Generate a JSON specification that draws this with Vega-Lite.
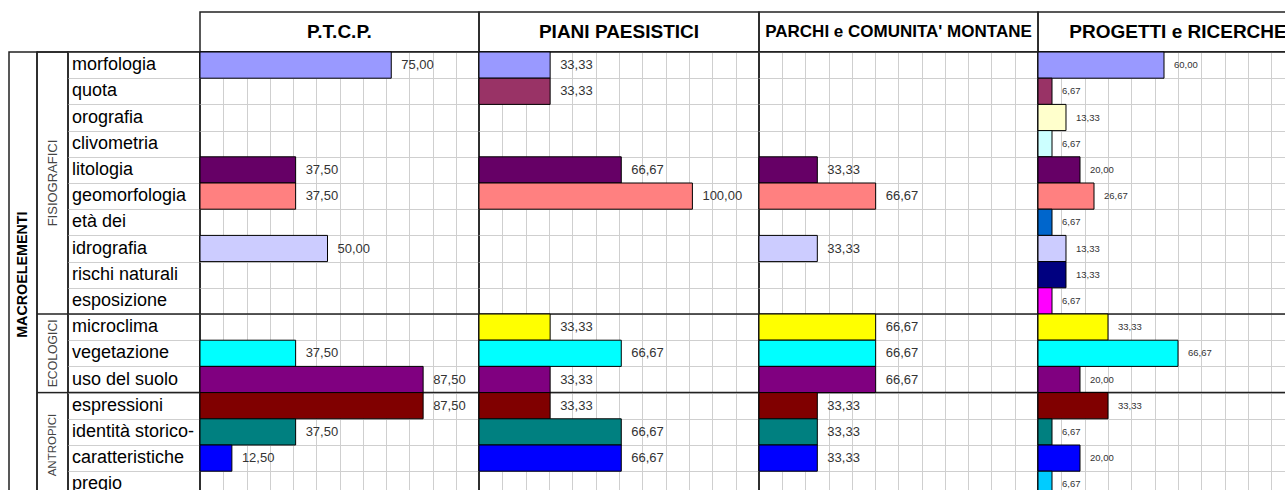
{
  "$schema": "https://vega.github.io/schema/vega-lite/v6.json",
  "padding": {"left": 8, "top": 11, "right": 0, "bottom": 0},
  "background": "white",
  "columns": 7,
  "spacing": 0,
  "bounds": "flush",
  "config": {
    "view": {"stroke": "#222222", "strokeWidth": 1.5},
    "concat": {"spacing": 0},
    "font": "Liberation Sans",
    "locale": {"number": {"decimal": ",", "thousands": ".", "grouping": [3], "currency": ["", " €"]}},
    "axis": {"domain": false, "ticks": false, "labels": false, "gridColor": "#cfcfcf", "gridWidth": 1, "minExtent": 0, "maxExtent": 0, "titlePadding": 0, "offset": 0}
  },
  "datasets": {
    "panels": [
      {"panel": "P.T.C.P."},
      {"panel": "PIANI PAESISTICI"},
      {"panel": "PARCHI e COMUNITA' MONTANE"},
      {"panel": "PROGETTI e RICERCHE"}
    ],
    "items": [
      {"macro": "MACROELEMENTI", "group": "FISIOGRAFICI", "item": "morfologia"},
      {"macro": "MACROELEMENTI", "group": "FISIOGRAFICI", "item": "quota"},
      {"macro": "MACROELEMENTI", "group": "FISIOGRAFICI", "item": "orografia"},
      {"macro": "MACROELEMENTI", "group": "FISIOGRAFICI", "item": "clivometria"},
      {"macro": "MACROELEMENTI", "group": "FISIOGRAFICI", "item": "litologia"},
      {"macro": "MACROELEMENTI", "group": "FISIOGRAFICI", "item": "geomorfologia"},
      {"macro": "MACROELEMENTI", "group": "FISIOGRAFICI", "item": "età dei"},
      {"macro": "MACROELEMENTI", "group": "FISIOGRAFICI", "item": "idrografia"},
      {"macro": "MACROELEMENTI", "group": "FISIOGRAFICI", "item": "rischi naturali"},
      {"macro": "MACROELEMENTI", "group": "FISIOGRAFICI", "item": "esposizione"},
      {"macro": "MACROELEMENTI", "group": "ECOLOGICI", "item": "microclima"},
      {"macro": "MACROELEMENTI", "group": "ECOLOGICI", "item": "vegetazione"},
      {"macro": "MACROELEMENTI", "group": "ECOLOGICI", "item": "uso del suolo"},
      {"macro": "MACROELEMENTI", "group": "ANTROPICI", "item": "espressioni"},
      {"macro": "MACROELEMENTI", "group": "ANTROPICI", "item": "identità storico-"},
      {"macro": "MACROELEMENTI", "group": "ANTROPICI", "item": "caratteristiche"},
      {"macro": "MACROELEMENTI", "group": "ANTROPICI", "item": "pregio"}
    ],
    "values": [
      {"panel": "P.T.C.P.", "item": "morfologia", "value": 75},
      {"panel": "P.T.C.P.", "item": "litologia", "value": 37.5},
      {"panel": "P.T.C.P.", "item": "geomorfologia", "value": 37.5},
      {"panel": "P.T.C.P.", "item": "idrografia", "value": 50},
      {"panel": "P.T.C.P.", "item": "vegetazione", "value": 37.5},
      {"panel": "P.T.C.P.", "item": "uso del suolo", "value": 87.5},
      {"panel": "P.T.C.P.", "item": "espressioni", "value": 87.5},
      {"panel": "P.T.C.P.", "item": "identità storico-", "value": 37.5},
      {"panel": "P.T.C.P.", "item": "caratteristiche", "value": 12.5},
      {"panel": "PIANI PAESISTICI", "item": "morfologia", "value": 33.33},
      {"panel": "PIANI PAESISTICI", "item": "quota", "value": 33.33},
      {"panel": "PIANI PAESISTICI", "item": "litologia", "value": 66.67},
      {"panel": "PIANI PAESISTICI", "item": "geomorfologia", "value": 100},
      {"panel": "PIANI PAESISTICI", "item": "microclima", "value": 33.33},
      {"panel": "PIANI PAESISTICI", "item": "vegetazione", "value": 66.67},
      {"panel": "PIANI PAESISTICI", "item": "uso del suolo", "value": 33.33},
      {"panel": "PIANI PAESISTICI", "item": "espressioni", "value": 33.33},
      {"panel": "PIANI PAESISTICI", "item": "identità storico-", "value": 66.67},
      {"panel": "PIANI PAESISTICI", "item": "caratteristiche", "value": 66.67},
      {"panel": "PARCHI e COMUNITA' MONTANE", "item": "litologia", "value": 33.33},
      {"panel": "PARCHI e COMUNITA' MONTANE", "item": "geomorfologia", "value": 66.67},
      {"panel": "PARCHI e COMUNITA' MONTANE", "item": "idrografia", "value": 33.33},
      {"panel": "PARCHI e COMUNITA' MONTANE", "item": "microclima", "value": 66.67},
      {"panel": "PARCHI e COMUNITA' MONTANE", "item": "vegetazione", "value": 66.67},
      {"panel": "PARCHI e COMUNITA' MONTANE", "item": "uso del suolo", "value": 66.67},
      {"panel": "PARCHI e COMUNITA' MONTANE", "item": "espressioni", "value": 33.33},
      {"panel": "PARCHI e COMUNITA' MONTANE", "item": "identità storico-", "value": 33.33},
      {"panel": "PARCHI e COMUNITA' MONTANE", "item": "caratteristiche", "value": 33.33},
      {"panel": "PROGETTI e RICERCHE", "item": "morfologia", "value": 60},
      {"panel": "PROGETTI e RICERCHE", "item": "quota", "value": 6.67},
      {"panel": "PROGETTI e RICERCHE", "item": "orografia", "value": 13.33},
      {"panel": "PROGETTI e RICERCHE", "item": "clivometria", "value": 6.67},
      {"panel": "PROGETTI e RICERCHE", "item": "litologia", "value": 20},
      {"panel": "PROGETTI e RICERCHE", "item": "geomorfologia", "value": 26.67},
      {"panel": "PROGETTI e RICERCHE", "item": "età dei", "value": 6.67},
      {"panel": "PROGETTI e RICERCHE", "item": "idrografia", "value": 13.33},
      {"panel": "PROGETTI e RICERCHE", "item": "rischi naturali", "value": 13.33},
      {"panel": "PROGETTI e RICERCHE", "item": "esposizione", "value": 6.67},
      {"panel": "PROGETTI e RICERCHE", "item": "microclima", "value": 33.33},
      {"panel": "PROGETTI e RICERCHE", "item": "vegetazione", "value": 66.67},
      {"panel": "PROGETTI e RICERCHE", "item": "uso del suolo", "value": 20},
      {"panel": "PROGETTI e RICERCHE", "item": "espressioni", "value": 33.33},
      {"panel": "PROGETTI e RICERCHE", "item": "identità storico-", "value": 6.67},
      {"panel": "PROGETTI e RICERCHE", "item": "caratteristiche", "value": 20},
      {"panel": "PROGETTI e RICERCHE", "item": "pregio", "value": 6.67}
    ]
  },
  "concat": [
    {"width": 28, "height": 40, "view": {"stroke": null}, "data": {"name": "panels"}, "transform": [{"filter": {"field": "panel", "equal": "P.T.C.P."}}], "mark": {"type": "text"}, "encoding": {"x": {"field": "panel", "type": "nominal", "axis": null, "scale": {"type": "band", "paddingInner": 0, "paddingOuter": 0}}, "text": {"value": ""}}},
    {"width": 31, "height": 40, "view": {"stroke": null}, "data": {"name": "panels"}, "transform": [{"filter": {"field": "panel", "equal": "P.T.C.P."}}], "mark": {"type": "text"}, "encoding": {"x": {"field": "panel", "type": "nominal", "axis": null, "scale": {"type": "band", "paddingInner": 0, "paddingOuter": 0}}, "text": {"value": ""}}},
    {"width": 132, "height": 40, "view": {"stroke": null}, "data": {"name": "panels"}, "transform": [{"filter": {"field": "panel", "equal": "P.T.C.P."}}], "mark": {"type": "text"}, "encoding": {"x": {"field": "panel", "type": "nominal", "axis": null, "scale": {"type": "band", "paddingInner": 0, "paddingOuter": 0}}, "text": {"value": ""}}},
    {"width": 279, "height": 40, "data": {"name": "panels"}, "transform": [{"filter": {"field": "panel", "equal": "P.T.C.P."}}], "mark": {"type": "text", "fontSize": 19, "fontWeight": "bold", "color": "black"}, "encoding": {"x": {"field": "panel", "type": "nominal", "axis": null, "scale": {"type": "band", "paddingInner": 0, "paddingOuter": 0}}, "text": {"field": "panel"}}},
    {"width": 280, "height": 40, "data": {"name": "panels"}, "transform": [{"filter": {"field": "panel", "equal": "PIANI PAESISTICI"}}], "mark": {"type": "text", "fontSize": 19, "fontWeight": "bold", "color": "black"}, "encoding": {"x": {"field": "panel", "type": "nominal", "axis": null, "scale": {"type": "band", "paddingInner": 0, "paddingOuter": 0}}, "text": {"field": "panel"}}},
    {"width": 279, "height": 40, "data": {"name": "panels"}, "transform": [{"filter": {"field": "panel", "equal": "PARCHI e COMUNITA' MONTANE"}}], "mark": {"type": "text", "fontSize": 17, "fontWeight": "bold", "color": "black"}, "encoding": {"x": {"field": "panel", "type": "nominal", "axis": null, "scale": {"type": "band", "paddingInner": 0, "paddingOuter": 0}}, "text": {"field": "panel"}}},
    {"width": 280, "height": 40, "data": {"name": "panels"}, "transform": [{"filter": {"field": "panel", "equal": "PROGETTI e RICERCHE"}}], "mark": {"type": "text", "fontSize": 19, "fontWeight": "bold", "color": "black"}, "encoding": {"x": {"field": "panel", "type": "nominal", "axis": null, "scale": {"type": "band", "paddingInner": 0, "paddingOuter": 0}}, "text": {"field": "panel"}}},
    {
      "width": 28, "height": 445.4,
      "data": {"name": "items"},
      "transform": [{"aggregate": [{"op": "count", "as": "n"}], "groupby": ["macro"]}],
      "mark": {"type": "text", "angle": 270, "fontSize": 14.3, "fontWeight": "bold", "color": "black"},
      "encoding": {"y": {"field": "macro", "type": "nominal", "axis": null, "scale": {"type": "band", "paddingInner": 0, "paddingOuter": 0}}, "text": {"field": "macro"}}
    },
    {
      "width": 31, "height": 445.4,
      "data": {"name": "items"},
      "transform": [
        {"window": [{"op": "row_number", "as": "rn"}], "groupby": ["group"]},
        {"joinaggregate": [{"op": "count", "as": "n"}], "groupby": ["group"]}
      ],
      "layer": [
        {
          "transform": [{"filter": "datum.rn === 1"}],
          "mark": {"type": "rule", "color": "#222222", "strokeWidth": 1.5},
          "encoding": {"y": {"field": "item", "type": "nominal", "bandPosition": 0, "axis": null, "scale": {"domain": ["morfologia","quota","orografia","clivometria","litologia","geomorfologia","età dei","idrografia","rischi naturali","esposizione","microclima","vegetazione","uso del suolo","espressioni","identità storico-","caratteristiche","pregio"], "paddingInner": 0, "paddingOuter": 0}}}
        },
        {
          "transform": [{"filter": "datum.n % 2 === 0 && datum.rn === floor(datum.n / 2) + 1"}],
          "mark": {"type": "text", "angle": 270, "color": "#444444", "baseline": "middle", "align": "center"},
          "encoding": {
            "y": {"field": "item", "type": "nominal", "bandPosition": 0, "axis": null, "scale": {"domain": ["morfologia","quota","orografia","clivometria","litologia","geomorfologia","età dei","idrografia","rischi naturali","esposizione","microclima","vegetazione","uso del suolo","espressioni","identità storico-","caratteristiche","pregio"], "paddingInner": 0, "paddingOuter": 0}},
            "text": {"field": "group"},
            "size": {"field": "group", "type": "nominal", "legend": null, "scale": {"domain": ["FISIOGRAFICI", "ECOLOGICI", "ANTROPICI"], "range": [13, 11.5, 11.5]}}
          }
        },
        {
          "transform": [{"filter": "datum.n % 2 === 1 && datum.rn === floor(datum.n / 2) + 1"}],
          "mark": {"type": "text", "angle": 270, "color": "#444444", "baseline": "middle", "align": "center"},
          "encoding": {
            "y": {"field": "item", "type": "nominal", "bandPosition": 0.5, "axis": null, "scale": {"domain": ["morfologia","quota","orografia","clivometria","litologia","geomorfologia","età dei","idrografia","rischi naturali","esposizione","microclima","vegetazione","uso del suolo","espressioni","identità storico-","caratteristiche","pregio"], "paddingInner": 0, "paddingOuter": 0}},
            "text": {"field": "group"},
            "size": {"field": "group", "type": "nominal", "legend": null, "scale": {"domain": ["FISIOGRAFICI", "ECOLOGICI", "ANTROPICI"], "range": [13, 11.5, 11.5]}}
          }
        }
      ]
    },
    {
      "width": 132, "height": 445.4,
      "data": {"name": "items"},
      "transform": [{"window": [{"op": "row_number", "as": "rn"}], "groupby": ["group"]}],
      "layer": [
        {
          "mark": {"type": "rule", "color": "#222222", "strokeWidth": 1.5},
          "transform": [{"filter": "datum.rn === 1"}],
          "encoding": {
            "y": {"field": "item", "type": "nominal", "bandPosition": 0, "scale": {"domain": ["morfologia","quota","orografia","clivometria","litologia","geomorfologia","età dei","idrografia","rischi naturali","esposizione","microclima","vegetazione","uso del suolo","espressioni","identità storico-","caratteristiche","pregio"], "paddingInner": 0, "paddingOuter": 0},
              "axis": {"title": null, "grid": true, "tickBand": "extent"}}
          }
        },
        {
          "mark": {"type": "text", "align": "left", "baseline": "middle", "dx": 4, "fontSize": 18, "color": "black"},
          "encoding": {
            "x": {"datum": 0, "type": "quantitative", "scale": {"domain": [0, 1]}, "axis": null},
            "y": {"field": "item", "type": "nominal", "scale": {"domain": ["morfologia","quota","orografia","clivometria","litologia","geomorfologia","età dei","idrografia","rischi naturali","esposizione","microclima","vegetazione","uso del suolo","espressioni","identità storico-","caratteristiche","pregio"], "paddingInner": 0, "paddingOuter": 0},
              "axis": {"title": null, "grid": true, "tickBand": "extent"}},
            "text": {"field": "item"}
          }
        }
      ]
    },
    {
      "width": 279, "height": 445.4,
      "layer": [
        {"data": {"name": "items"}, "transform": [{"window": [{"op": "row_number", "as": "rn"}], "groupby": ["group"]}, {"filter": "datum.rn === 1"}],
         "mark": {"type": "rule", "color": "#222222", "strokeWidth": 1.5},
         "encoding": {"y": {"field": "item", "type": "nominal", "bandPosition": 0, "scale": {"domain": ["morfologia","quota","orografia","clivometria","litologia","geomorfologia","età dei","idrografia","rischi naturali","esposizione","microclima","vegetazione","uso del suolo","espressioni","identità storico-","caratteristiche","pregio"], "paddingInner": 0, "paddingOuter": 0}, "axis": {"title": null, "grid": true, "tickBand": "extent"}}}},
        {"data": {"name": "values"}, "transform": [{"filter": {"field": "panel", "equal": "P.T.C.P."}}],
         "mark": {"type": "bar", "stroke": "black", "strokeWidth": 1},
         "encoding": {
           "x": {"field": "value", "type": "quantitative", "scale": {"domain": [0, 109.41], "nice": false, "zero": true}, "axis": {"title": null, "grid": true, "values": [9.118, 18.235, 27.353, 36.471, 45.588, 54.706, 63.824, 72.941, 82.059, 91.176, 100.294]}},
           "y": {"field": "item", "type": "nominal", "scale": {"domain": ["morfologia","quota","orografia","clivometria","litologia","geomorfologia","età dei","idrografia","rischi naturali","esposizione","microclima","vegetazione","uso del suolo","espressioni","identità storico-","caratteristiche","pregio"], "paddingInner": 0, "paddingOuter": 0}, "axis": {"title": null, "grid": true, "tickBand": "extent"}},
           "color": {"field": "item", "type": "nominal", "legend": null, "scale": {"domain": ["morfologia","quota","orografia","clivometria","litologia","geomorfologia","età dei","idrografia","rischi naturali","esposizione","microclima","vegetazione","uso del suolo","espressioni","identità storico-","caratteristiche","pregio"], "range": ["#9999FF","#993366","#FFFFCC","#CCFFFF","#660066","#FF8080","#0066CC","#CCCCFF","#000080","#FF00FF","#FFFF00","#00FFFF","#800080","#800000","#008080","#0000FF","#00CCFF"]}}
         }},
        {"data": {"name": "values"}, "transform": [{"filter": {"field": "panel", "equal": "P.T.C.P."}}],
         "mark": {"type": "text", "align": "left", "baseline": "middle", "dx": 10, "fontSize": 13, "color": "#333333"},
         "encoding": {
           "x": {"field": "value", "type": "quantitative", "scale": {"domain": [0, 109.41], "nice": false, "zero": true}, "axis": {"title": null, "grid": true, "values": [9.118, 18.235, 27.353, 36.471, 45.588, 54.706, 63.824, 72.941, 82.059, 91.176, 100.294]}},
           "y": {"field": "item", "type": "nominal", "scale": {"domain": ["morfologia","quota","orografia","clivometria","litologia","geomorfologia","età dei","idrografia","rischi naturali","esposizione","microclima","vegetazione","uso del suolo","espressioni","identità storico-","caratteristiche","pregio"], "paddingInner": 0, "paddingOuter": 0}, "axis": {"title": null, "grid": true, "tickBand": "extent"}},
           "text": {"field": "value", "type": "quantitative", "format": ".2f"}
         }}
      ]
    },
    {
      "width": 280, "height": 445.4,
      "layer": [
        {"data": {"name": "items"}, "transform": [{"window": [{"op": "row_number", "as": "rn"}], "groupby": ["group"]}, {"filter": "datum.rn === 1"}],
         "mark": {"type": "rule", "color": "#222222", "strokeWidth": 1.5},
         "encoding": {"y": {"field": "item", "type": "nominal", "bandPosition": 0, "scale": {"domain": ["morfologia","quota","orografia","clivometria","litologia","geomorfologia","età dei","idrografia","rischi naturali","esposizione","microclima","vegetazione","uso del suolo","espressioni","identità storico-","caratteristiche","pregio"], "paddingInner": 0, "paddingOuter": 0}, "axis": {"title": null, "grid": true, "tickBand": "extent"}}}},
        {"data": {"name": "values"}, "transform": [{"filter": {"field": "panel", "equal": "PIANI PAESISTICI"}}],
         "mark": {"type": "bar", "stroke": "black", "strokeWidth": 1},
         "encoding": {
           "x": {"field": "value", "type": "quantitative", "scale": {"domain": [0, 131.21], "nice": false, "zero": true}, "axis": {"title": null, "grid": true, "values": [10.934, 21.868, 32.802, 43.736, 54.67, 65.604, 76.538, 87.472, 98.406, 109.34, 120.274]}},
           "y": {"field": "item", "type": "nominal", "scale": {"domain": ["morfologia","quota","orografia","clivometria","litologia","geomorfologia","età dei","idrografia","rischi naturali","esposizione","microclima","vegetazione","uso del suolo","espressioni","identità storico-","caratteristiche","pregio"], "paddingInner": 0, "paddingOuter": 0}, "axis": {"title": null, "grid": true, "tickBand": "extent"}},
           "color": {"field": "item", "type": "nominal", "legend": null, "scale": {"domain": ["morfologia","quota","orografia","clivometria","litologia","geomorfologia","età dei","idrografia","rischi naturali","esposizione","microclima","vegetazione","uso del suolo","espressioni","identità storico-","caratteristiche","pregio"], "range": ["#9999FF","#993366","#FFFFCC","#CCFFFF","#660066","#FF8080","#0066CC","#CCCCFF","#000080","#FF00FF","#FFFF00","#00FFFF","#800080","#800000","#008080","#0000FF","#00CCFF"]}}
         }},
        {"data": {"name": "values"}, "transform": [{"filter": {"field": "panel", "equal": "PIANI PAESISTICI"}}],
         "mark": {"type": "text", "align": "left", "baseline": "middle", "dx": 10, "fontSize": 13, "color": "#333333"},
         "encoding": {
           "x": {"field": "value", "type": "quantitative", "scale": {"domain": [0, 131.21], "nice": false, "zero": true}, "axis": {"title": null, "grid": true, "values": [10.934, 21.868, 32.802, 43.736, 54.67, 65.604, 76.538, 87.472, 98.406, 109.34, 120.274]}},
           "y": {"field": "item", "type": "nominal", "scale": {"domain": ["morfologia","quota","orografia","clivometria","litologia","geomorfologia","età dei","idrografia","rischi naturali","esposizione","microclima","vegetazione","uso del suolo","espressioni","identità storico-","caratteristiche","pregio"], "paddingInner": 0, "paddingOuter": 0}, "axis": {"title": null, "grid": true, "tickBand": "extent"}},
           "text": {"field": "value", "type": "quantitative", "format": ".2f"}
         }}
      ]
    },
    {
      "width": 279, "height": 445.4,
      "layer": [
        {"data": {"name": "items"}, "transform": [{"window": [{"op": "row_number", "as": "rn"}], "groupby": ["group"]}, {"filter": "datum.rn === 1"}],
         "mark": {"type": "rule", "color": "#222222", "strokeWidth": 1.5},
         "encoding": {"y": {"field": "item", "type": "nominal", "bandPosition": 0, "scale": {"domain": ["morfologia","quota","orografia","clivometria","litologia","geomorfologia","età dei","idrografia","rischi naturali","esposizione","microclima","vegetazione","uso del suolo","espressioni","identità storico-","caratteristiche","pregio"], "paddingInner": 0, "paddingOuter": 0}, "axis": {"title": null, "grid": true, "tickBand": "extent"}}}},
        {"data": {"name": "values"}, "transform": [{"filter": {"field": "panel", "equal": "PARCHI e COMUNITA' MONTANE"}}],
         "mark": {"type": "bar", "stroke": "black", "strokeWidth": 1},
         "encoding": {
           "x": {"field": "value", "type": "quantitative", "scale": {"domain": [0, 159.43], "nice": false, "zero": true}, "axis": {"title": null, "grid": true, "values": [13.286, 26.571, 39.857, 53.143, 66.429, 79.714, 93.0, 106.286, 119.571, 132.857, 146.143]}},
           "y": {"field": "item", "type": "nominal", "scale": {"domain": ["morfologia","quota","orografia","clivometria","litologia","geomorfologia","età dei","idrografia","rischi naturali","esposizione","microclima","vegetazione","uso del suolo","espressioni","identità storico-","caratteristiche","pregio"], "paddingInner": 0, "paddingOuter": 0}, "axis": {"title": null, "grid": true, "tickBand": "extent"}},
           "color": {"field": "item", "type": "nominal", "legend": null, "scale": {"domain": ["morfologia","quota","orografia","clivometria","litologia","geomorfologia","età dei","idrografia","rischi naturali","esposizione","microclima","vegetazione","uso del suolo","espressioni","identità storico-","caratteristiche","pregio"], "range": ["#9999FF","#993366","#FFFFCC","#CCFFFF","#660066","#FF8080","#0066CC","#CCCCFF","#000080","#FF00FF","#FFFF00","#00FFFF","#800080","#800000","#008080","#0000FF","#00CCFF"]}}
         }},
        {"data": {"name": "values"}, "transform": [{"filter": {"field": "panel", "equal": "PARCHI e COMUNITA' MONTANE"}}],
         "mark": {"type": "text", "align": "left", "baseline": "middle", "dx": 10, "fontSize": 13, "color": "#333333"},
         "encoding": {
           "x": {"field": "value", "type": "quantitative", "scale": {"domain": [0, 159.43], "nice": false, "zero": true}, "axis": {"title": null, "grid": true, "values": [13.286, 26.571, 39.857, 53.143, 66.429, 79.714, 93.0, 106.286, 119.571, 132.857, 146.143]}},
           "y": {"field": "item", "type": "nominal", "scale": {"domain": ["morfologia","quota","orografia","clivometria","litologia","geomorfologia","età dei","idrografia","rischi naturali","esposizione","microclima","vegetazione","uso del suolo","espressioni","identità storico-","caratteristiche","pregio"], "paddingInner": 0, "paddingOuter": 0}, "axis": {"title": null, "grid": true, "tickBand": "extent"}},
           "text": {"field": "value", "type": "quantitative", "format": ".2f"}
         }}
      ]
    },
    {
      "width": 280, "height": 445.4,
      "layer": [
        {"data": {"name": "items"}, "transform": [{"window": [{"op": "row_number", "as": "rn"}], "groupby": ["group"]}, {"filter": "datum.rn === 1"}],
         "mark": {"type": "rule", "color": "#222222", "strokeWidth": 1.5},
         "encoding": {"y": {"field": "item", "type": "nominal", "bandPosition": 0, "scale": {"domain": ["morfologia","quota","orografia","clivometria","litologia","geomorfologia","età dei","idrografia","rischi naturali","esposizione","microclima","vegetazione","uso del suolo","espressioni","identità storico-","caratteristiche","pregio"], "paddingInner": 0, "paddingOuter": 0}, "axis": {"title": null, "grid": true, "tickBand": "extent"}}}},
        {"data": {"name": "values"}, "transform": [{"filter": {"field": "panel", "equal": "PROGETTI e RICERCHE"}}],
         "mark": {"type": "bar", "stroke": "black", "strokeWidth": 1},
         "encoding": {
           "x": {"field": "value", "type": "quantitative", "scale": {"domain": [0, 133.33], "nice": false, "zero": true}, "axis": {"title": null, "grid": true, "values": [11.111, 22.222, 33.333, 44.444, 55.556, 66.667, 77.778, 88.889, 100, 111.111, 122.222]}},
           "y": {"field": "item", "type": "nominal", "scale": {"domain": ["morfologia","quota","orografia","clivometria","litologia","geomorfologia","età dei","idrografia","rischi naturali","esposizione","microclima","vegetazione","uso del suolo","espressioni","identità storico-","caratteristiche","pregio"], "paddingInner": 0, "paddingOuter": 0}, "axis": {"title": null, "grid": true, "tickBand": "extent"}},
           "color": {"field": "item", "type": "nominal", "legend": null, "scale": {"domain": ["morfologia","quota","orografia","clivometria","litologia","geomorfologia","età dei","idrografia","rischi naturali","esposizione","microclima","vegetazione","uso del suolo","espressioni","identità storico-","caratteristiche","pregio"], "range": ["#9999FF","#993366","#FFFFCC","#CCFFFF","#660066","#FF8080","#0066CC","#CCCCFF","#000080","#FF00FF","#FFFF00","#00FFFF","#800080","#800000","#008080","#0000FF","#00CCFF"]}}
         }},
        {"data": {"name": "values"}, "transform": [{"filter": {"field": "panel", "equal": "PROGETTI e RICERCHE"}}],
         "mark": {"type": "text", "align": "left", "baseline": "middle", "dx": 10, "fontSize": 9.5, "color": "#333333"},
         "encoding": {
           "x": {"field": "value", "type": "quantitative", "scale": {"domain": [0, 133.33], "nice": false, "zero": true}, "axis": {"title": null, "grid": true, "values": [11.111, 22.222, 33.333, 44.444, 55.556, 66.667, 77.778, 88.889, 100, 111.111, 122.222]}},
           "y": {"field": "item", "type": "nominal", "scale": {"domain": ["morfologia","quota","orografia","clivometria","litologia","geomorfologia","età dei","idrografia","rischi naturali","esposizione","microclima","vegetazione","uso del suolo","espressioni","identità storico-","caratteristiche","pregio"], "paddingInner": 0, "paddingOuter": 0}, "axis": {"title": null, "grid": true, "tickBand": "extent"}},
           "text": {"field": "value", "type": "quantitative", "format": ".2f"}
         }}
      ]
    }
  ]
}
